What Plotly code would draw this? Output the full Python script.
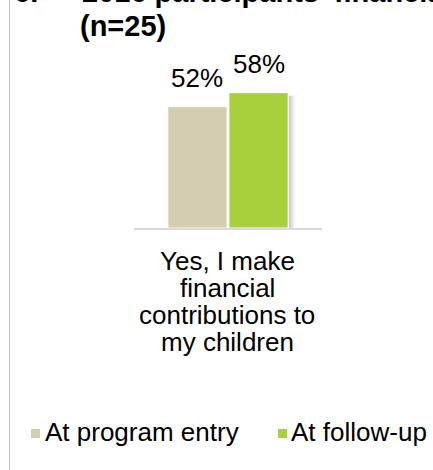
import plotly.graph_objects as go

# ---- data ----
categories = ["Yes, I make financial contributions to my children"]
category_lines = ["Yes, I make", "financial", "contributions to", "my children"]
series_names = ["At program entry", "At follow-up"]
entry_values = [52]
followup_values = [58]
series_colors = ["#D3CDB1", "#A8D03C"]
title_number = "6."
title_lines = ["2016 participants' financial contributions", "(n=25)"]

# ---- layout constants (pixels) ----
W, H = 433, 470
PLOT_X0, PLOT_X1 = 134, 322
ZERO_Y, TOP_Y = 228, 88
Y_MAX = 60
BARGAP = 0.35
FONT = "Liberation Sans, Arial, sans-serif"


def px_x(px):
    return px / W


def px_y(py):
    return 1 - py / H


fig = go.Figure()
for name, vals, color in zip(series_names, [entry_values, followup_values], series_colors):
    fig.add_trace(go.Bar(
        x=categories, y=vals, name=name,
        marker=dict(color=color, line=dict(color="white", width=1)),
        showlegend=False, hoverinfo="skip",
    ))

annotations = []
shapes = []

# value labels above bars
slot = (1 - BARGAP) / 2
for i, vals in enumerate([entry_values, followup_values]):
    xc = -slot / 2 + i * slot
    for v in vals:
        annotations.append(dict(
            x=xc, y=v, xref="x", yref="y", text=f"{v}%", showarrow=False,
            yanchor="bottom", yshift=12, font=dict(family=FONT, size=26, color="#000"),
        ))

# soft shadow on the right of the follow-up bar
px_per_unit = (PLOT_X1 - PLOT_X0)
right_edge = slot * (1 - 0.015)
y_per_px = Y_MAX / (ZERO_Y - TOP_Y)
for k, op in enumerate([0.35, 0.28, 0.2, 0.13, 0.08, 0.04, 0.02]):
    shapes.append(dict(
        type="rect", xref="x", yref="y",
        x0=right_edge + (1 + k) / px_per_unit, x1=right_edge + (2 + k) / px_per_unit,
        y0=0, y1=followup_values[0] - 3 * y_per_px,
        fillcolor="#555", opacity=op, line=dict(width=0), layer="below",
    ))

# category label, one annotation per line
for j, line in enumerate(category_lines):
    baseline = 271.7 + 27 * j
    annotations.append(dict(
        x=0, y=px_y(baseline - 11), xref="x", yref="paper", text=line, showarrow=False,
        xanchor="center", yanchor="middle", xshift=-1,
        font=dict(family=FONT, size=26, color="#000"),
    ))

# title
annotations.append(dict(x=px_x(12), y=px_y(-8), xref="paper", yref="paper", text=f"<b>{title_number}</b>",
                        showarrow=False, xanchor="left", yanchor="middle",
                        font=dict(family=FONT, size=29, color="#000")))
annotations.append(dict(x=px_x(80), y=px_y(-8), xref="paper", yref="paper", text=f"<b>{title_lines[0]}</b>",
                        showarrow=False, xanchor="left", yanchor="middle",
                        font=dict(family=FONT, size=29, color="#000")))
annotations.append(dict(x=px_x(78), y=px_y(26), xref="paper", yref="paper", text=f"<b>{title_lines[1]}</b>",
                        showarrow=False, xanchor="left", yanchor="middle",
                        font=dict(family=FONT, size=29, color="#000")))

# legend
legend_items = [(31, 43), (278, 289)]
for (sq_x, tx_x), name, color in zip(legend_items, series_names, series_colors):
    shapes.append(dict(type="rect", xref="paper", yref="paper",
                       x0=px_x(sq_x), x1=px_x(sq_x + 9), y0=px_y(438), y1=px_y(429),
                       fillcolor=color, line=dict(width=0)))
    annotations.append(dict(x=px_x(tx_x), y=px_y(432), xref="paper", yref="paper", text=name,
                            showarrow=False, xanchor="left", yanchor="middle",
                            font=dict(family=FONT, size=26, color="#000")))

# left border line
shapes.append(dict(type="line", xref="paper", yref="paper", x0=px_x(9.5), x1=px_x(9.5), y0=0, y1=1,
                   line=dict(color="#BFBFBF", width=1)))

fig.update_layout(
    width=W, height=H,
    margin=dict(l=0, r=0, t=0, b=0),
    paper_bgcolor="white", plot_bgcolor="white",
    barmode="group", bargap=BARGAP, bargroupgap=0.03,
    xaxis=dict(domain=[px_x(PLOT_X0), px_x(PLOT_X1)], showticklabels=False, ticks="",
               showgrid=False, zeroline=False, showline=True, linecolor="#D9D9D9", linewidth=2),
    yaxis=dict(domain=[px_y(ZERO_Y), px_y(TOP_Y)], range=[0, Y_MAX], visible=False),
    annotations=annotations, shapes=shapes,
    font=dict(family=FONT),
)

fig.write_html("out.html", config={"displayModeBar": False})
